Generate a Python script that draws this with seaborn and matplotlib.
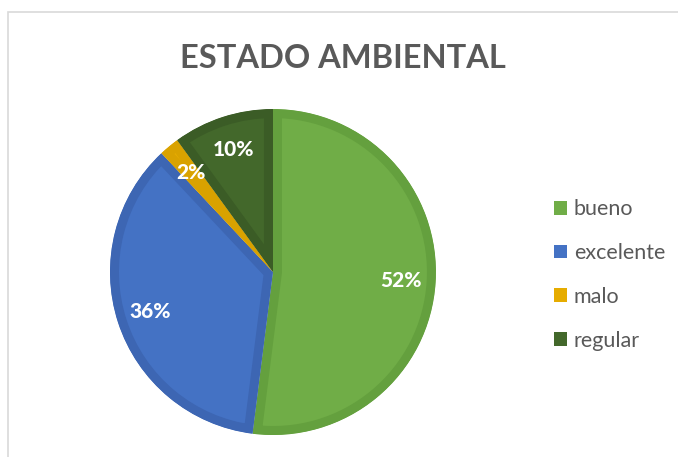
import matplotlib
matplotlib.use("Agg")
import matplotlib.pyplot as plt
import matplotlib.patches as mpatches
import seaborn as sns

# Datos
# -----------------------------------------------------------------------
categorias = ["bueno", "excelente", "malo", "regular"]
porcentajes = [52, 36, 2, 10]
colores = ["#70AD47", "#4472C4", "#E6AC00", "#43682B"]
bordes = ["#64A03E", "#3D66B3", "#D9A200", "#3B5C26"]

sns.set_theme(style="white")
plt.rcParams["font.family"] = ["Lato", "DejaVu Sans"]

fig = plt.figure(figsize=(6.78, 4.57), dpi=100)
fig.patch.set_facecolor("white")

# marco del gráfico (estilo Excel)
fig.patches.append(mpatches.Rectangle(
    (8 / 678, -0.1), 1.2, 1 - 12 / 457 + 0.1, transform=fig.transFigure,
    fill=False, edgecolor="#D9D9D9", linewidth=1.2, zorder=0))

ax = fig.add_axes([0.1622, 0.0481, 0.4808, 0.7133])
wedges, textos, autotextos = ax.pie(
    porcentajes, colors=colores, startangle=90, counterclock=False,
    autopct=lambda p: f"{p:.0f}%", pctdistance=0.79,
    textprops=dict(color="white", fontsize=15, fontweight="black"))

# borde interior más oscuro en cada porción
for w, b in zip(wedges, bordes):
    clip = mpatches.Wedge(w.center, w.r, w.theta1, w.theta2,
                          transform=ax.transData)
    w.set_edgecolor(b)
    w.set_linewidth(13)
    w.set_joinstyle("round")
    w.set_clip_on(True)
    w.set_clip_path(clip)

ax.set_xlim(-1, 1)
ax.set_ylim(-1, 1)
ax.set_aspect("equal")

fig.text(343 / 678, 1 - 58 / 457, "ESTADO AMBIENTAL", ha="center", va="center",
         fontsize=23.5, fontweight="bold", color="#595959")

handles = [mpatches.Patch(facecolor=c, edgecolor="none") for c in colores]
fig.legend(handles, categorias, loc="center left",
           bbox_to_anchor=(535 / 678, 1 - 275 / 457), frameon=False,
           fontsize=15.5, labelcolor="#595959", handlelength=0.6,
           handleheight=0.6, handletextpad=0.3, labelspacing=1.1)

fig.savefig("out.png", dpi=100)
